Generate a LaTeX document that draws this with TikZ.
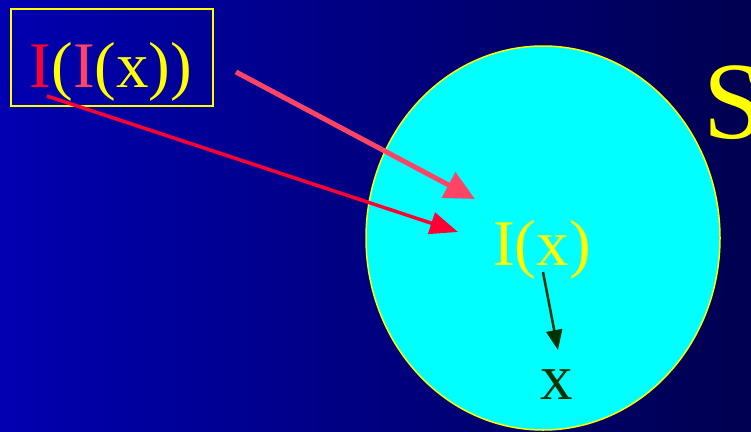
\documentclass[tikz,border=0pt]{standalone}
\usepackage{fontspec}
\setmainfont{Liberation Serif}
\usetikzlibrary{arrows.meta,shapes.geometric}
\definecolor{bgleft}{HTML}{0000B0}
\definecolor{bgright}{HTML}{000050}
\definecolor{ired}{HTML}{FF0033}
\definecolor{ipink}{HTML}{FF4466}
\definecolor{ylw}{HTML}{FFFF00}
\definecolor{dgreen}{HTML}{003300}
\definecolor{cyn}{HTML}{00FFFF}
\tikzset{
  x=1pt, y=-1pt,
  lbl/.style={font=\fontsize{65}{65}\selectfont, inner sep=0pt},
}
\begin{document}
\begin{tikzpicture}
\shade[left color=bgleft, right color=bgright] (0,0) rectangle (751,431);
\useasboundingbox (0,0) rectangle (751,431);
\node[draw=ylw, line width=1.5pt, fill=cyn, ellipse, minimum width=354pt, minimum height=384pt, inner sep=0pt] (S) at (543,238) {};
\node[draw=ylw, line width=1.2pt, minimum width=202pt, minimum height=97pt, inner sep=0pt] (box) at (112,57.5) {};
\node[lbl, anchor=base] (iix) at (111,87) {\textcolor{ired}{I}\textcolor{ylw}{(}\textcolor{ipink}{I}\textcolor{ylw}{(x))}};
\node[lbl, anchor=base, text=ylw] (ix) at (542,265) {I(x)};
\node[lbl, anchor=base, text=dgreen] (x) at (557,399) {x};
\node[font=\fontsize{110}{110}\selectfont, inner sep=0pt, anchor=base west, text=ylw] (Slbl) at (703,138) {S};
\coordinate (a1s) at (236,72);
\coordinate (a1e) at (475,199);
\coordinate (a2s) at (47,96);
\coordinate (a2e) at (458,232);
\coordinate (a3s) at (543,272);
\coordinate (a3e) at (558,350);
\draw[ipink, line width=5pt, -{Triangle[length=30pt,width=28pt]}] (a1s) -- (a1e);
\draw[ired, line width=3.5pt, -{Triangle[length=28pt,width=22pt]}] (a2s) -- (a2e);
\draw[dgreen, line width=2.5pt, -{Triangle[length=20pt,width=16pt]}] (a3s) -- (a3e);
\end{tikzpicture}
\end{document}
